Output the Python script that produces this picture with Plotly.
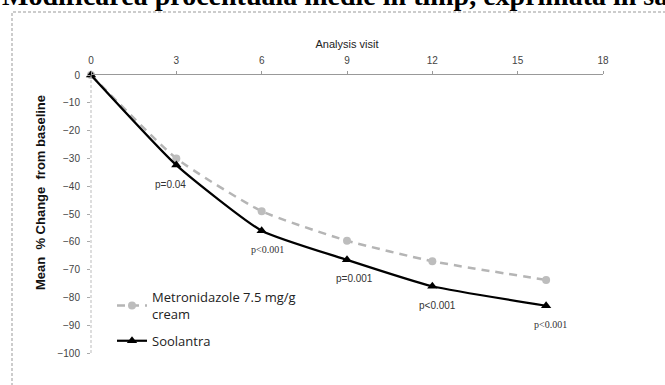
import plotly.graph_objects as go

# ---- data ----
visits = [0, 3, 6, 9, 12, 16]
metronidazole = [0, -30, -49, -59.6, -67, -73.7]
soolantra = [0, -32.4, -56, -66.5, -76, -83]
p_visits = [3, 6, 9, 12, 16]
p_labels = ["p=0.04", "p<0.001", "p=0.001", "p<0.001", "p<0.001"]
x_ticks = [0, 3, 6, 9, 12, 15, 18]
y_ticks = [0, -10, -20, -30, -40, -50, -60, -70, -80, -90, -100]

W, H = 665, 385
L, R, T, B = 91, 62, 75, 32
PW, PH = W - L - R, H - T - B


def px_x(p):
    return (p - L) / PW


def px_y(p):
    return (H - B - p) / PH


fig = go.Figure()
fig.add_trace(go.Scatter(
    x=visits, y=metronidazole, mode="lines+markers",
    name="Metronidazole 7.5 mg/g<br>cream", legendgroup="m",
    line=dict(color="#b5b5b5", width=2.5, dash="8px,6px", shape="spline", smoothing=0.5),
    marker=dict(symbol="circle", size=8, color="#bdbdbd"),
    cliponaxis=False,
))
fig.add_trace(go.Scatter(
    x=visits, y=soolantra, mode="lines+markers",
    name="Soolantra", legendgroup="s",
    line=dict(color="#000000", width=2.2, shape="spline", smoothing=0.5),
    marker=dict(symbol="triangle-up", size=9, color="#000000"),
    cliponaxis=False,
))

sool_at = dict(zip(visits, soolantra))
xshifts = [-6, 6, 7, 5, 4]
p_fonts = ["Liberation Sans", "Liberation Serif", "Liberation Sans", "Liberation Sans", "Liberation Serif"]
for v, lab, xs, fam in zip(p_visits, p_labels, xshifts, p_fonts):
    fig.add_annotation(x=v, y=sool_at[v], text=lab, showarrow=False,
                       xshift=xs, yshift=-19,
                       font=dict(family=fam, size=10, color="#333333"))

# title (cut off at top)
fig.add_annotation(xref="paper", yref="paper", x=px_x(0), y=px_y(-5),
                   xanchor="left", yanchor="middle", showarrow=False,
                   text="<b>Modificarea procentuală medie în timp, exprimată în sa</b>",
                   font=dict(family="Liberation Serif", size=28, color="#000000"))

# y axis title
fig.add_annotation(xref="paper", yref="paper", x=px_x(40), y=px_y(193),
                   xanchor="center", yanchor="middle", textangle=-90, showarrow=False,
                   text="<b>Mean  % Change  from baseline</b>",
                   font=dict(family="Liberation Sans", size=13, color="#111111"))

# dashed chart frame
fig.add_shape(type="rect", xref="paper", yref="paper",
              x0=px_x(12), x1=px_x(700), y0=px_y(420), y1=px_y(12),
              line=dict(color="#999999", width=1, dash="3px,2px"))
# dotted y axis line
fig.add_shape(type="line", xref="paper", yref="paper",
              x0=0, x1=0, y0=0, y1=1,
              line=dict(color="#bbbbbb", width=1, dash="3px,2px"))

fig.update_layout(
    width=W, height=H,
    margin=dict(l=L, r=R, t=T, b=B),
    paper_bgcolor="white", plot_bgcolor="white",
    showlegend=True,
    legend=dict(x=px_x(112), y=px_y(282), xanchor="left", yanchor="top",
                bgcolor="rgba(0,0,0,0)", font=dict(family="Open Sans", size=13, color="#222222"),
                traceorder="grouped", tracegroupgap=7, itemwidth=30),
    xaxis=dict(side="top", range=[0, 18], tickvals=x_ticks,
               showline=True, linecolor="#999999", linewidth=1,
               ticks="outside", ticklen=3, tickcolor="#999999",
               showgrid=False, zeroline=False, ticklabelstandoff=3,
               tickfont=dict(family="Liberation Sans", size=10, color="#444444"),
               title=dict(text="Analysis visit", standoff=4,
                          font=dict(family="Liberation Sans", size=11, color="#222222"))),
    yaxis=dict(range=[-100, 0], tickvals=y_ticks,
               showline=False, ticks="outside", ticklen=3, tickcolor="#aaaaaa",
               showgrid=False, zeroline=False, ticklabelstandoff=5,
               tickfont=dict(family="Liberation Sans", size=10, color="#444444")),
)

fig.write_html("out.html", config={"displayModeBar": False},
               post_script="document.body.style.margin='0';document.body.style.padding='0';")
